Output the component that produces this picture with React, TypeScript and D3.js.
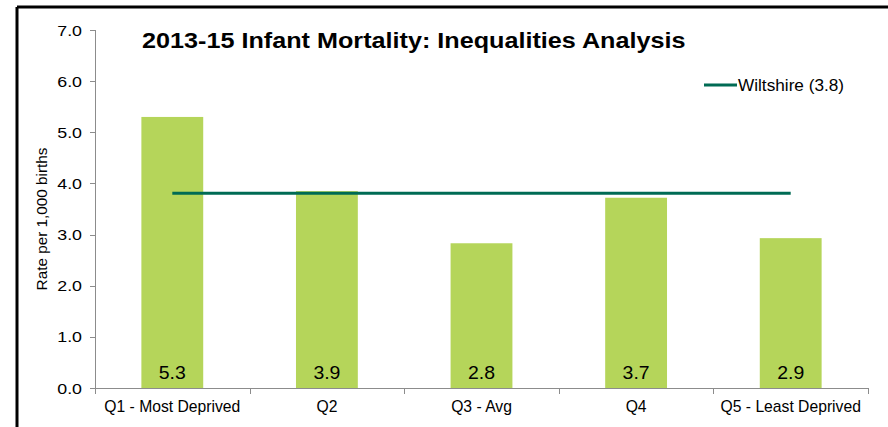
import React from 'react';
import * as d3 from 'd3';

// quintile categories and rates per 1,000 births
const categories = ['Q1 - Most Deprived', 'Q2', 'Q3 - Avg', 'Q4', 'Q5 - Least Deprived'];
const rates = [5.3, 3.85, 2.83, 3.72, 2.93];
const rateLabels = ['5.3', '3.9', '2.8', '3.7', '2.9'];
const wiltshire = [3.81, 3.81, 3.81, 3.81, 3.81];
const yTicks = [0, 1, 2, 3, 4, 5, 6, 7];

const W = 888, H = 427;
const font = '"Liberation Sans", Arial, sans-serif';

// text that is stretched horizontally a bit, like the original export
const SText = ({ x, y, sx = 1, anchor = 'start', size, bold = false, children }: any) => (
  <text transform={`translate(${x},${y}) scale(${sx},1)`} textAnchor={anchor} fontSize={size}
    fontWeight={bold ? 'bold' : 'normal'} fill="#000">{children}</text>
);

const App = () => {
  const x = d3.scaleBand<string>()
    .domain(categories)
    .range([95, 868])
    .paddingInner(0.6)
    .paddingOuter(0.3);

  const y = d3.scaleLinear().domain([0, 7]).range([388, 30]);

  // boundaries between categories for the little tick marks
  const step = x.step();
  const start = x(categories[0])! - x.paddingOuter() * step;
  const bounds = d3.range(categories.length + 1).map(i => start + i * step);
  const mid = (c: string) => x(c)! + x.bandwidth() / 2;

  const line = d3.line<number>()
    .x((_, i) => mid(categories[i]))
    .y(d => y(d));

  return (
    <svg width={W} height={H} style={{ position: 'absolute', left: 0, top: 0, fontFamily: font }}>
      <rect width={W} height={H} fill="#fff" />
      {/* outer frame: only left and top show */}
      <line x1={17} y1={7} x2={W} y2={7} stroke="#000" strokeWidth={3} />
      <line x1={17} y1={7} x2={17} y2={H} stroke="#000" strokeWidth={3} />

      {/* bars */}
      {rates.map((d, i) => (
        <rect key={categories[i]} x={x(categories[i])} y={y(d)} width={x.bandwidth()}
          height={y(0) - y(d)} fill="#B5D55A" />
      ))}

      {/* y axis */}
      <line x1={95.5} y1={y(7)} x2={95.5} y2={y(0)} stroke="#8c8c8c" />
      {yTicks.map(t => (
        <g key={t}>
          <line x1={90} x2={95.5} y1={Math.round(y(t)) + 0.5} y2={Math.round(y(t)) + 0.5} stroke="#8c8c8c" />
          <SText x={82} y={y(t) + 5.5} sx={1.15} anchor="end" size={15.5}>{t.toFixed(1)}</SText>
        </g>
      ))}

      {/* x axis */}
      <line x1={95} x2={868} y1={388.5} y2={388.5} stroke="#8c8c8c" />
      {bounds.map((b, i) => (
        <line key={i} x1={Math.round(b) + 0.5} x2={Math.round(b) + 0.5} y1={388} y2={394} stroke="#8c8c8c" />
      ))}
      {categories.map(c => (
        <SText key={c} x={mid(c)} y={412} anchor="middle" size={15.7}>{c}</SText>
      ))}

      {/* value labels inside bars */}
      {rateLabels.map((l, i) => (
        <SText key={i} x={mid(categories[i])} y={378.5} sx={1.08} anchor="middle" size={18}>{l}</SText>
      ))}

      {/* Wiltshire average line */}
      <path d={line(wiltshire)!} fill="none" stroke="#006B54" strokeWidth={3} />

      {/* legend */}
      <line x1={704} x2={737} y1={85} y2={85} stroke="#006B54" strokeWidth={3} />
      <SText x={738} y={91} sx={1.075} size={16}>Wiltshire (3.8)</SText>

      {/* title */}
      <SText x={142} y={48} sx={1.13} size={22.3} bold>2013-15 Infant Mortality: Inequalities Analysis</SText>

      {/* y axis label */}
      <text transform="translate(47, 219) rotate(-90)" textAnchor="middle" fontSize={15.3} fill="#000">Rate per 1,000 births</text>
    </svg>
  );
};

export default App;
